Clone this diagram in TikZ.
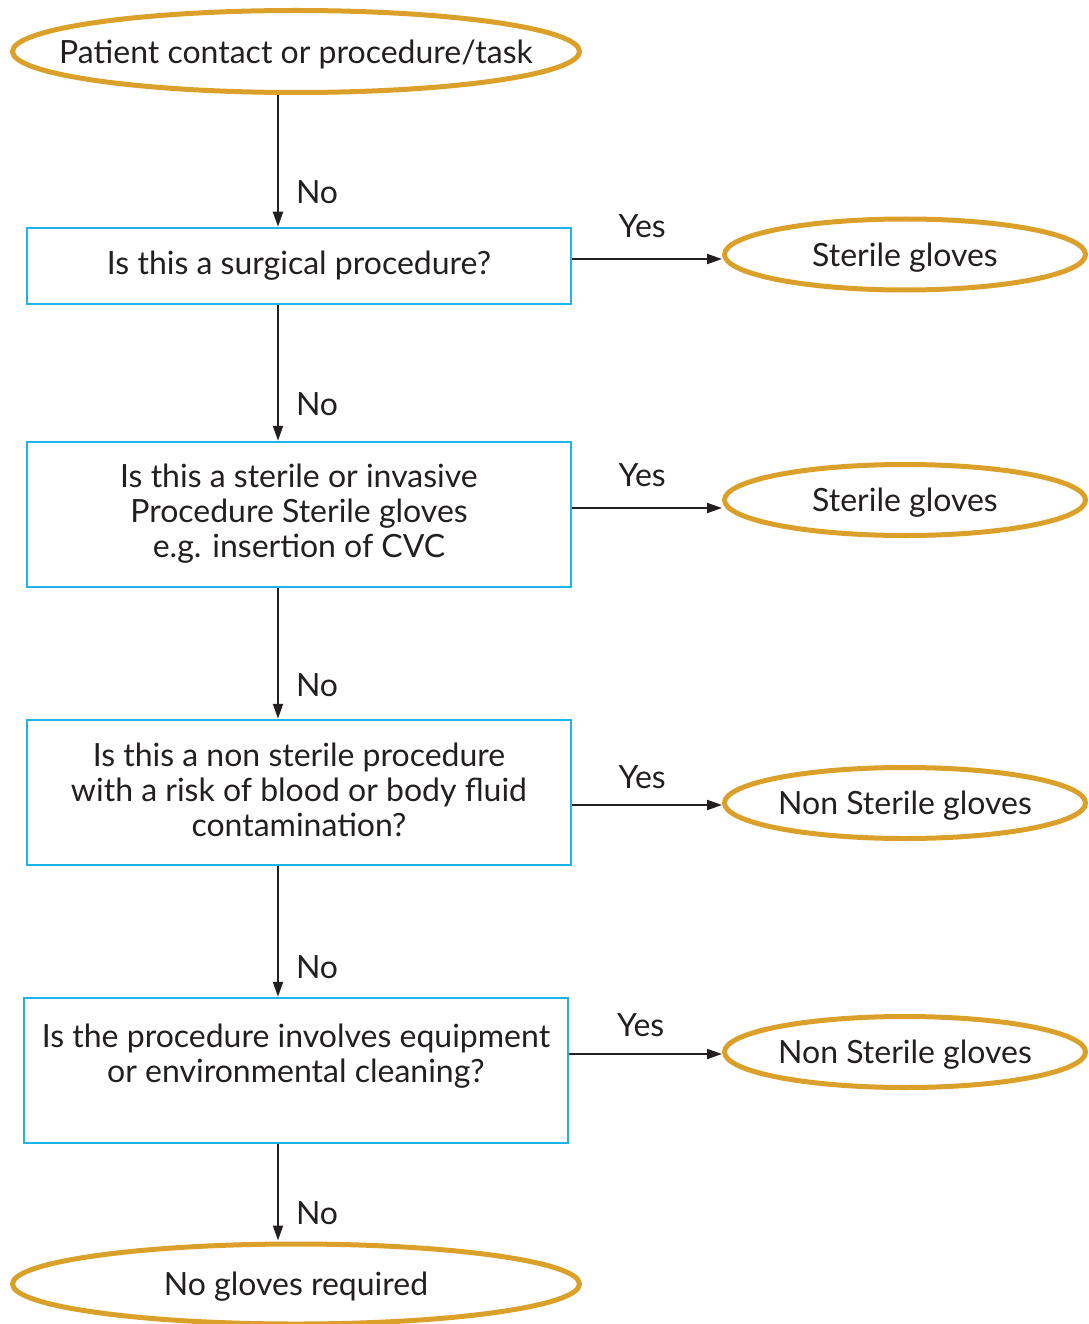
\documentclass[tikz,border=0pt]{standalone}
\usepackage{fontspec}
\setmainfont{Lato}
\usetikzlibrary{shapes.geometric,arrows.meta}
\definecolor{gold}{HTML}{DBA02A}
\definecolor{cyanbox}{HTML}{1CB4EA}
\definecolor{ink}{HTML}{231F20}
\newcommand\ovtext[1]{\smash{\makebox[0pt]{\raisebox{-0.36em}{#1}}}}
\begin{document}
\begin{tikzpicture}[x=1pt,y=-1pt,
  every node/.style={text=ink,font=\fontsize{32}{35}\selectfont},
  oval/.style={ellipse,draw=gold,line width=5pt,inner sep=0pt},
  qbox/.style={rectangle,draw=cyanbox,line width=2.5pt,minimum width=544pt,align=center,inner sep=0pt},
  arr/.style={draw=ink,line width=2pt,-{Triangle[length=15pt,width=10pt]}},
  lbl/.style={inner sep=0pt}]
\useasboundingbox (0,0) rectangle (1088,1324);
\node[oval,minimum width=567pt,minimum height=82pt] (start) at (296,51.5) {\ovtext{Patient contact or procedure/task}};
\node[qbox,minimum height=76pt] (b1) at (299,266) {Is this a surgical procedure?};
\node[qbox,minimum height=145pt] (b2) at (299,514.5) {Is this a sterile or invasive\\Procedure Sterile gloves\\e.g. insertion of CVC\\[-28pt]\mbox{}};
\node[qbox,minimum height=145pt] (b3) at (299,792.5) {Is this a non sterile procedure\\with a risk of blood or body fluid\\contamination?\\[-30pt]\mbox{}};
\node[qbox,minimum height=145pt] (b4) at (296,1070.5) {Is the procedure involves equipment\\or environmental cleaning?\\\mbox{}};
\node[oval,minimum width=567pt,minimum height=80pt] (end) at (296,1284) {\ovtext{No gloves required}};
\node[oval,minimum width=361pt,minimum height=71pt] (s1) at (905,254.5) {\ovtext{Sterile gloves}};
\node[oval,minimum width=361pt,minimum height=71pt] (s2) at (905,500) {\ovtext{Sterile gloves}};
\node[oval,minimum width=361pt,minimum height=71pt] (s3) at (905,803) {\ovtext{Non Sterile gloves}};
\node[oval,minimum width=361pt,minimum height=71pt] (s4) at (905,1052) {\ovtext{Non Sterile gloves}};
% vertical connectors
\draw[arr] (start.south -| 278,0) -- (b1.north -| 278,0) node[lbl,pos=0.74,right=17pt] {No};
\draw[arr] (b1.south -| 278,0) -- (b2.north -| 278,0) node[lbl,pos=0.73,right=17pt] {No};
\draw[arr] (b2.south -| 278,0) -- (b3.north -| 278,0) node[lbl,pos=0.74,right=17pt] {No};
\draw[arr] (b3.south -| 278,0) -- (b4.north -| 278,0) node[lbl,pos=0.77,right=17pt] {No};
\draw[arr] (b4.south -| 278,0) -- ([yshift=1pt]end.north -| 278,0) node[lbl,pos=0.72,right=17pt] {No};
% horizontal connectors
\draw[arr] (b1.east |- 0,259) -- (s1.west |- 0,259) node[lbl,midway,above=20pt,xshift=-5pt] {Yes};
\draw[arr] (b2.east |- 0,508) -- (s2.west |- 0,508) node[lbl,midway,above=20pt,xshift=-5pt] {Yes};
\draw[arr] (b3.east |- 0,805) -- (s3.west |- 0,805) node[lbl,midway,above=15pt,xshift=-5pt] {Yes};
\draw[arr] (b4.east |- 0,1054) -- (s4.west |- 0,1054) node[lbl,midway,above=16pt,xshift=-5pt] {Yes};
\end{tikzpicture}
\end{document}
